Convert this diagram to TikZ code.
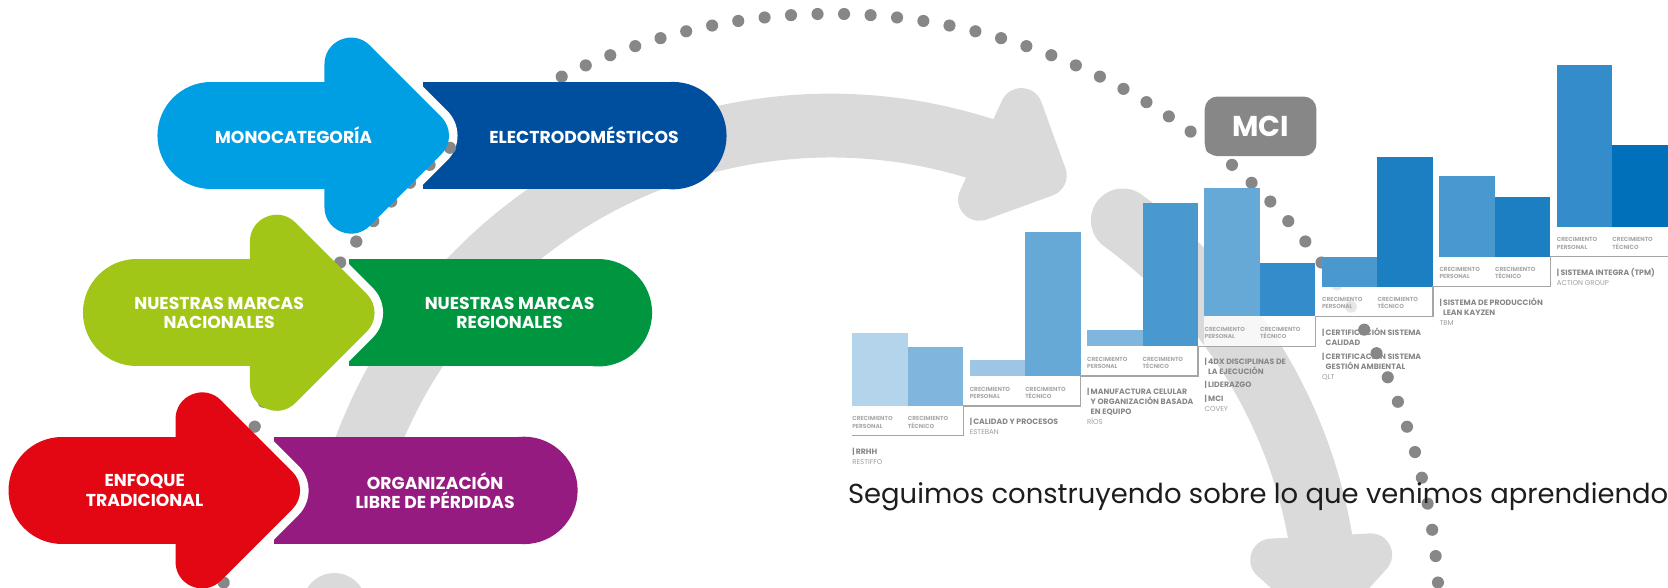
\documentclass[tikz,border=0pt]{standalone}
\usepackage{fontspec}
\setmainfont{Poppins}
\definecolor{monoblue}{HTML}{009FE3}
\definecolor{electroblue}{HTML}{004F9F}
\definecolor{nacgreen}{HTML}{A2C617}
\definecolor{reggreen}{HTML}{009640}
\definecolor{tradred}{HTML}{E30613}
\definecolor{orgpurple}{HTML}{951B81}
\definecolor{bandgrey}{HTML}{DADADA}
\definecolor{trailgrey}{HTML}{878787}
\definecolor{barA}{HTML}{B3D4EB}
\definecolor{barB}{HTML}{80B6DD}
\definecolor{barC}{HTML}{9DC6E6}
\definecolor{barD}{HTML}{66A8D6}
\definecolor{barE}{HTML}{4A99CE}
\definecolor{barF}{HTML}{348DCA}
\definecolor{barG}{HTML}{1B7FC2}
\definecolor{barH}{HTML}{0070BA}
\definecolor{lblgrey}{HTML}{A8A8A8}
\definecolor{notegrey}{HTML}{878787}
\definecolor{subgrey}{HTML}{9D9D9D}
\definecolor{stairgrey}{HTML}{A6A6A6}
\definecolor{inkblack}{HTML}{1D1D1B}
\newcommand{\subtxt}{\fontsize{6.6}{8.8}\selectfont\mdseries\color{subgrey}}
\tikzstyle{pilltxt} = [text=white,font=\fontsize{16.2}{18}\selectfont\bfseries,align=center,inner sep=0pt]
\tikzstyle{band} = [draw=bandgrey,line width=60pt]
\tikzstyle{bandhead} = [fill=bandgrey,draw=bandgrey,line width=40pt,line join=round]
\tikzstyle{trail} = [fill=trailgrey]
\tikzstyle{mcibox} = [rectangle,rounded corners=12pt,fill=trailgrey,text=white,minimum width=105pt,minimum height=56pt,font=\fontsize{27}{30}\selectfont\bfseries]
\tikzstyle{growlbl} = [anchor=north west,inner sep=0pt,align=left,text=lblgrey,font=\fontsize{5.5}{6.9}\selectfont\bfseries]
\tikzstyle{notelbl} = [anchor=north west,inner sep=0pt,text=notegrey,font=\fontsize{7.3}{8.8}\selectfont\bfseries]
\tikzstyle{stair} = [draw=stairgrey,line width=1.2pt]
\tikzstyle{boxfade} = [fill=white,fill opacity=0.8]

\begin{document}
\begin{tikzpicture}[x=1pt,y=-1pt]
    	\useasboundingbox (0,0) rectangle (1568,552);
    	\clip (0,0) rectangle (1568,552);
    	
    	\draw[band] plot[domain=70:167,samples=90] ({781+467*cos(\x)},{585-467*sin(\x)});
    	\draw[band,line cap=round] plot[domain=9:54,samples=50] ({781+467*cos(\x)},{585-467*sin(\x)});
    	\draw[band,line cap=round] plot[domain=178:195,samples=20] ({781+467*cos(\x)},{585-467*sin(\x)});
    	\begin{scope}[shift={(922.3,136.7)},rotate=-25]
    		\filldraw[bandhead] (20,-46.7) -- (66.7,0) -- (20,46.7) -- cycle;
    	\end{scope}
    	\begin{scope}[shift={(1240.9,503.9)},rotate=-87]
    		\filldraw[bandhead] (20,-46.7) -- (66.7,0) -- (20,46.7) -- cycle;
    	\end{scope}
    	
    	\foreach \k in {-35,...,34}
    		\fill[trail] ({781+572*cos(91.25+2.5*\k)},{585-572*sin(91.25+2.5*\k)}) circle (5.7);
    	
    	\foreach \xo/\yc/\cb in {148/127.5/electroblue,78/294/reggreen,8/461/orgpurple}{
    		\fill[\cb] (\xo+250,\yc-50.5) rectangle (\xo+484.5,\yc+50.5);
    		\fill[\cb] (\xo+484.5,\yc) circle (50.5);
    		\draw[white,line width=66pt,line join=round] (\xo+182,\yc-67.1) -- (\xo+249.1,\yc) -- (\xo+182,\yc+67.1) -- cycle;
    	}
    	
    	\foreach \k in {15,...,34}
    		\fill[trail] ({781+572*cos(91.25+2.5*\k)},{585-572*sin(91.25+2.5*\k)}) circle (5.7);
    	
    	\foreach \xo/\yc/\ca in {148/127.5/monoblue,78/294/nacgreen,8/461/tradred}{
    		\draw[draw=\ca,line width=101pt,line cap=round] (\xo+50.5,\yc) -- (\xo+182,\yc);
    		\filldraw[fill=\ca,draw=\ca,line width=50pt,line join=round] (\xo+182,\yc-67.1) -- (\xo+249.1,\yc) -- (\xo+182,\yc+67.1) -- cycle;
    	}
    	
    	\node[pilltxt] (mono) at (276,127.5) {MONOCATEGORÍA};
    	\node[pilltxt] (electro) at (549,127.5) {ELECTRODOMÉSTICOS};
    	\node[pilltxt] (nacional) at (206,294) {NUESTRAS MARCAS\\NACIONALES};
    	\node[pilltxt] (regional) at (479,294) {NUESTRAS MARCAS\\REGIONALES};
    	\node[pilltxt] (enfoque) at (136,461) {ENFOQUE\\TRADICIONAL};
    	\node[pilltxt] (perdidas) at (409,461) {ORGANIZACIÓN\\LIBRE DE PÉRDIDAS};
    	
    	\node[mcibox] (mci) at (1185,118.75) {MCI};
    	
    	\foreach \k/\hpers/\htech/\cpers/\ctech in {1/68.6/55.6/barA/barB,2/15.1/135.4/barC/barD,3/14.9/135.1/barB/barE,4/120.2/49.8/barD/barF,5/28.2/122.2/barE/barG,6/76.1/56.4/barE/barG,7/152.3/77/barF/barH}{
    		\pgfmathsetmacro{\lx}{801+110.4*(\k-1)}
    		\pgfmathsetmacro{\by}{381.6-28.07*(\k-1)}
    		\fill[\cpers] (\lx,\by) rectangle ++(52.2,-\hpers);
    		\fill[\ctech] (\lx+52.2,\by) rectangle ++(52.2,-\htech);
    		\fill[boxfade] (\lx,\by) rectangle ++(104.4,28.07);
    		\node[growlbl] (growp\k) at (\lx,\by+10) {CRECIMIENTO\\PERSONAL};
    		\node[growlbl] (growt\k) at (\lx+52.2,\by+10) {CRECIMIENTO\\TÉCNICO};
    	}
    	
    	\draw[stair] (801,409.7) -| (905.4,381.6) -| (1015.8,353.5) -| (1126.2,325.5) -| (1236.6,297.4) -| (1347,269.3) -| (1457.4,241.3) -- (1568,241.3);
    	
    	\node[notelbl] (rrhh) at (801,420.5) {\begin{tabular}{@{}l@{\,}l@{}}|&RRHH\\[1pt]\multicolumn{2}{@{}l@{}}{\subtxt RESTIFFO}\end{tabular}};
    	\node[notelbl] (calidad) at (911.4,392.4) {\begin{tabular}{@{}l@{\,}l@{}}|&CALIDAD Y PROCESOS\\[1pt]\multicolumn{2}{@{}l@{}}{\subtxt ESTEBAN}\end{tabular}};
    	\node[notelbl] (manufactura) at (1021.8,364.4) {\begin{tabular}{@{}l@{\,}l@{}}|&MANUFACTURA CELULAR\\&Y ORGANIZACIÓN BASADA\\&EN EQUIPO\\[1pt]\multicolumn{2}{@{}l@{}}{\subtxt RÍOS}\end{tabular}};
    	\node[notelbl] (disciplinas) at (1132.2,336.3) {\begin{tabular}{@{}l@{\,}l@{}}|&4DX DISCIPLINAS DE\\&LA EJECUCIÓN\\[3.5pt]|&LIDERAZGO\\[3.5pt]|&MCI\\[1pt]\multicolumn{2}{@{}l@{}}{\subtxt COVEY}\end{tabular}};
    	\node[notelbl] (certificacion) at (1242.6,308.2) {\begin{tabular}{@{}l@{\,}l@{}}|&CERTIFICACIÓN SISTEMA\\&CALIDAD\\[3.5pt]|&CERTIFICACIÓN SISTEMA\\&GESTIÓN AMBIENTAL\\[1pt]\multicolumn{2}{@{}l@{}}{\subtxt QLT}\end{tabular}};
    	\node[notelbl] (kayzen) at (1353,280.2) {\begin{tabular}{@{}l@{\,}l@{}}|&SISTEMA DE PRODUCCIÓN\\&LEAN KAYZEN\\[1pt]\multicolumn{2}{@{}l@{}}{\subtxt TBM}\end{tabular}};
    	\node[notelbl] (integra) at (1463.4,252.1) {\begin{tabular}{@{}l@{\,}l@{}}|&SISTEMA INTEGRA (TPM)\\[1pt]\multicolumn{2}{@{}l@{}}{\subtxt ACTION GROUP}\end{tabular}};
    	
    	\node[anchor=base west,inner sep=0pt,text=inkblack,font=\fontsize{25.8}{30}\selectfont] (motto) at (797,473.7) {Seguimos construyendo sobre lo que venimos aprendiendo};
    	
\end{tikzpicture}
\end{document}
